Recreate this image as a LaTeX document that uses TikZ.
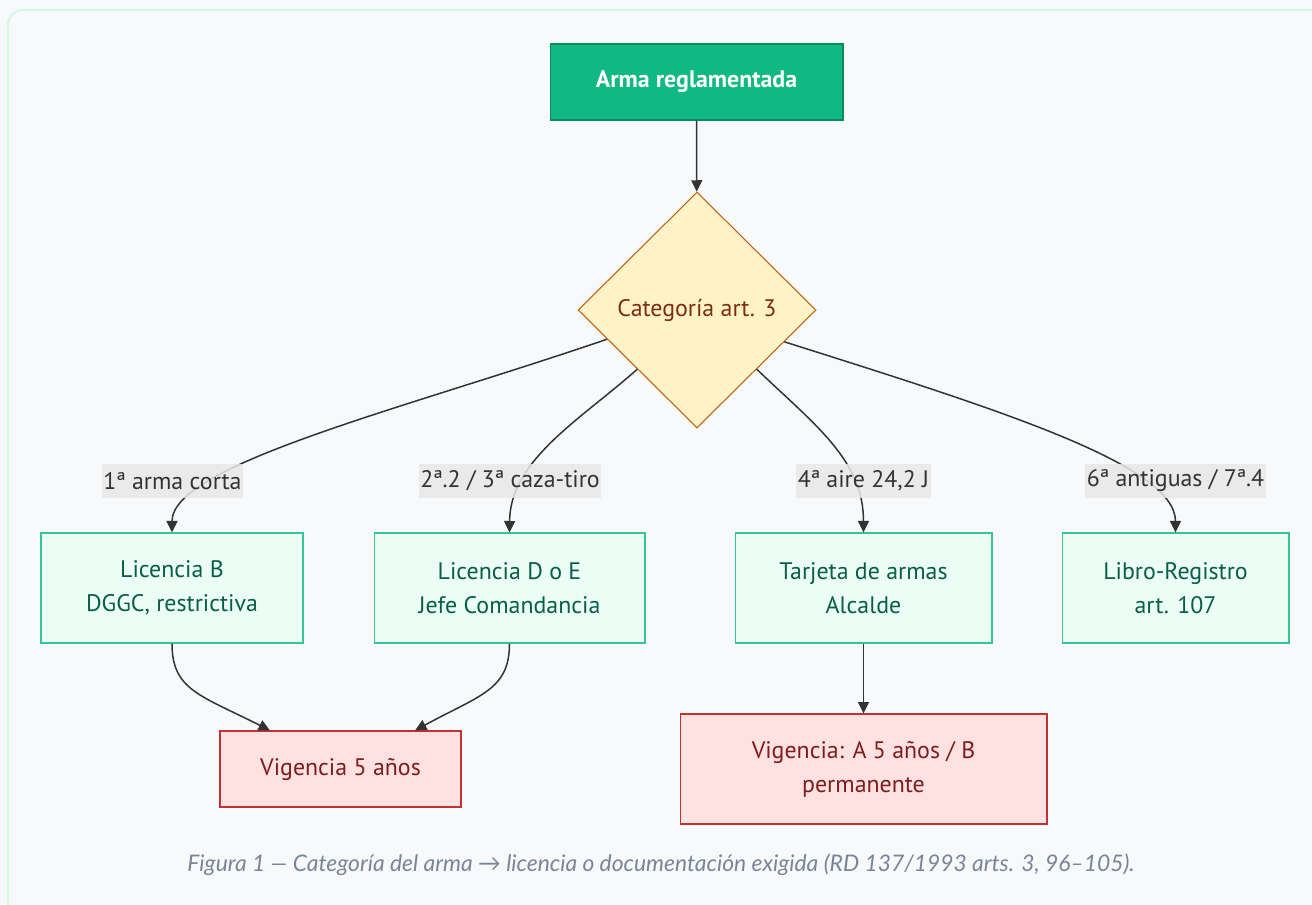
\documentclass[tikz,border=0pt]{standalone}
\usepackage{fontspec}
\setmainfont{PT Sans}
\newfontfamily\capfont{Lato}
\usetikzlibrary{shapes.geometric,arrows.meta}
\definecolor{bgc}{HTML}{F8F9FB}
\definecolor{framec}{HTML}{D1FAE5}
\definecolor{topfill}{HTML}{10B981}
\definecolor{topline}{HTML}{0B8A60}
\definecolor{decfill}{HTML}{FEF3C7}
\definecolor{decline}{HTML}{C2610C}
\definecolor{dectext}{HTML}{7C2D12}
\definecolor{licfill}{HTML}{ECFDF5}
\definecolor{licline}{HTML}{34C796}
\definecolor{lictext}{HTML}{065F46}
\definecolor{vigfill}{HTML}{FEE2E2}
\definecolor{vigline}{HTML}{C53030}
\definecolor{vigtext}{HTML}{7F1D1D}
\definecolor{tagfill}{HTML}{E8E8E8}
\definecolor{edgec}{HTML}{333333}
\definecolor{capc}{HTML}{7A8599}
\tikzset{
  nodetext/.style={font=\fontsize{13.6}{19.5}\selectfont, align=center},
  topbox/.style={nodetext, draw=topline, fill=topfill, text=white, font=\fontsize{13.6}{19.5}\selectfont\bfseries, line width=0.6pt},
  decision/.style={nodetext, shape=diamond, draw=decline, fill=decfill, text=dectext, inner sep=0pt, line width=0.6pt},
  licbox/.style={nodetext, draw=licline, fill=licfill, text=lictext, line width=0.6pt},
  vigbox/.style={nodetext, draw=vigline, fill=vigfill, text=vigtext, line width=0.6pt},
  tag/.style={nodetext, fill=tagfill, fill opacity=0.85, text opacity=1, text=edgec, inner xsep=1pt, minimum height=0.68cm},
  flow/.style={draw=edgec, line width=0.85pt, -{Triangle[length=2.3mm,width=2.2mm]}},
}
\begin{document}
\begin{tikzpicture}[x=0.02cm,y=-0.02cm]
  \useasboundingbox (0,0) rectangle (1312,904);
  % background panel
  \fill[bgc] (0,0) rectangle (1312,904);
  \draw[framec, line width=1.2pt, fill=bgc, rounded corners=0.3cm] (8,10) rectangle (1340,940);

  % nodes
  \node[topbox, minimum width=5.86cm, minimum height=1.52cm] (arma) at (696.5,82) {Arma reglamentada};
  \node[decision, minimum width=4.76cm, minimum height=4.72cm] (cat) at (697,310) {Categoría art. 3};
  \node[licbox, minimum width=5.24cm, minimum height=2.2cm] (licb) at (172,588) {Licencia B\\DGGC, restrictiva};
  \node[licbox, minimum width=5.42cm, minimum height=2.2cm] (licd) at (509.5,588) {Licencia D o E\\Jefe Comandancia};
  \node[licbox, minimum width=5.14cm, minimum height=2.2cm] (tarj) at (863.5,588) {Tarjeta de armas\\Alcalde};
  \node[licbox, minimum width=4.54cm, minimum height=2.2cm] (libro) at (1175.5,588) {Libro-Registro\\art. 107};
  \node[vigbox, minimum width=4.82cm, minimum height=1.52cm] (vig5) at (340.5,769) {Vigencia 5 años};
  \node[vigbox, minimum width=7.34cm, minimum height=2.2cm] (vigab) at (863.5,769) {Vigencia: A 5 años / B\\permanente};

  % connectors
  \draw[flow] (arma) -- (cat);
  \draw[flow] (cat.198) .. controls (400,410) and (172,465) .. (licb.north);
  \draw[flow] (cat.south west) .. controls (580,420) and (510,460) .. (licd.north);
  \draw[flow] (cat.south east) .. controls (815,425) and (863.5,460) .. (tarj.north);
  \draw[flow] (cat.340) .. controls (1000,410) and (1175.5,465) .. (libro.north);
  \draw[flow] (licb.south) .. controls (172,690) and (200,695) .. (vig5.north west -| 270,0);
  \draw[flow] (licd.south) .. controls (509.5,690) and (480,695) .. (vig5.north west -| 415,0);
  \draw[flow] (tarj) -- (vigab);

  % edge labels
  \node[tag] (t1) at (172.5,481) {1ª arma corta};
  \node[tag] (t2) at (510,481) {2ª.2 / 3ª caza-tiro};
  \node[tag] (t3) at (863.5,481) {4ª aire 24,2 J};
  \node[tag] (t4) at (1175.5,481) {6ª antiguas / 7ª.4};

  % caption
  \node[text=capc, font=\capfont\itshape\fontsize{13}{15}\selectfont] (cap) at (661,865)
    {Figura 1 — Categoría del arma → licencia o documentación exigida (RD 137/1993 arts. 3, 96–105).};
\end{tikzpicture}
\end{document}
